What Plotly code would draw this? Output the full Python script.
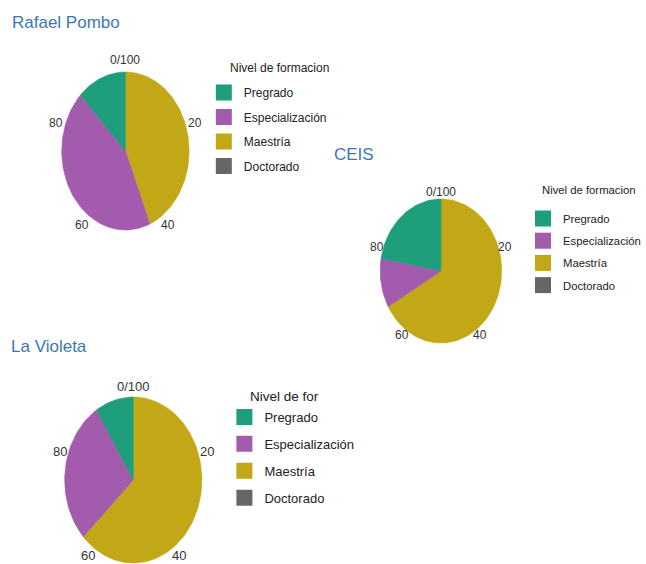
import numpy as np
import plotly.graph_objects as go

# ---- data ----
niveles = ["Pregrado", "Especialización", "Maestría", "Doctorado"]
colores = ["#1f9e7b", "#a25bad", "#c2a716", "#666666"]
sedes = ["Rafael Pombo", "CEIS", "La Violeta"]
rafael_pombo = [12.5, 43.75, 43.75, 0]
ceis = [22.2, 11.1, 66.7, 0]
la_violeta = [9.0, 28.0, 63.0, 0]
ticks = [0, 20, 40, 60, 80]
tick_labels = ["0/100", "20", "40", "60", "80"]
legend_titles = ["Nivel de formacion", "Nivel de formacion", "Nivel de for"]

valores = [rafael_pombo, ceis, la_violeta]

W, H = 646, 564
R = 1.4  # axis half-range (pie radius = 1)
# layout geometry (pixels): centre x, centre y, radius x, radius y
geom = [(128, 151, 65, 79), (450, 271, 62, 72), (136, 480, 70, 83)]
tick_r = [1.15, 1.1, 1.13]
tick_fs = [12, 12, 13]
title_pos = [(10, 22), (339, 154), (9, 346)]
# legend: x, y(top), item font, tracegroupgap
legend_pos = [(208, 78, 12, 5.5), (534, 204, 11.3, 3.2), (229, 402, 13, 7)]
# legend title: x, y(centre), font size
ltitle_pos = [(233, 68, 12), (551, 190, 11.3), (253, 396, 13.5)]

fig = go.Figure()
layout = dict()
annotations = []

for i, (sede, vals) in enumerate(zip(sedes, valores)):
    cx, cy, rx, ry = geom[i]
    xa = "xaxis" if i == 0 else f"xaxis{i+1}"
    ya = "yaxis" if i == 0 else f"yaxis{i+1}"
    xr = "x" if i == 0 else f"x{i+1}"
    yr = "y" if i == 0 else f"y{i+1}"
    px0, px1 = max(0, cx - R * rx), min(W, cx + R * rx)
    py0, py1 = max(0, cy - R * ry), min(H, cy + R * ry)
    layout[xa] = dict(domain=[px0 / W, px1 / W],
                      range=[(px0 - cx) / rx, (px1 - cx) / rx],
                      visible=False, fixedrange=True, anchor=yr)
    layout[ya] = dict(domain=[1 - py1 / H, 1 - py0 / H],
                      range=[(cy - py1) / ry, (cy - py0) / ry],
                      visible=False, fixedrange=True, anchor=xr)
    total = sum(vals)
    # stacking order clockwise from top: last level first (ggplot stack)
    order = [3, 2, 1, 0]
    start = 0.0
    for k in order:
        frac = vals[k] / total
        if frac > 0:
            t = np.linspace(start, start + frac, max(4, int(frac * 200)))
            th = 2 * np.pi * t
            xs = np.concatenate([[0], np.sin(th), [0]])
            ys = np.concatenate([[0], np.cos(th), [0]])
            fig.add_trace(go.Scatter(x=xs, y=ys, xaxis=xr, yaxis=yr, mode="lines",
                                     fill="toself", fillcolor=colores[k],
                                     line=dict(width=0.6, color=colores[k]),
                                     hoverinfo="text", text=f"{niveles[k]}: {vals[k]}",
                                     showlegend=False))
        start += frac
    # legend entries
    lg = "legend" if i == 0 else f"legend{i+1}"
    for k, n in enumerate(niveles):
        fig.add_trace(go.Scatter(x=[None], y=[None], xaxis=xr, yaxis=yr, mode="markers",
                                 marker=dict(symbol="square", size=20, color=colores[k]),
                                 name=n, legend=lg, legendgroup=f"{i}_{n}", showlegend=True))
    lx, ly, ifs, gap = legend_pos[i]
    layout[lg] = dict(x=lx / W, y=1 - ly / H, xanchor="left", yanchor="top",
                      font=dict(size=ifs, color="#222"), bgcolor="rgba(0,0,0,0)",
                      traceorder="grouped", tracegroupgap=gap, itemclick=False)
    tx, ty, tfs = ltitle_pos[i]
    annotations.append(dict(x=tx / W, y=1 - ty / H, xref="paper", yref="paper",
                            xanchor="left", yanchor="middle", text=legend_titles[i],
                            showarrow=False, font=dict(size=tfs, color="#222")))
    # angular tick labels
    for tv, tl in zip(ticks, tick_labels):
        th = 2 * np.pi * tv / 100
        r = tick_r[i]
        annotations.append(dict(x=r * np.sin(th), y=r * np.cos(th), xref=xr, yref=yr,
                                text=tl, showarrow=False,
                                font=dict(size=tick_fs[i], color="#333")))
    # panel title
    tx, ty = title_pos[i]
    annotations.append(dict(x=tx / W, y=1 - ty / H, xref="paper", yref="paper",
                            xanchor="left", yanchor="middle", text=sede, showarrow=False,
                            font=dict(size=17, color="#3b78b3", family="Liberation Sans")))

fig.update_layout(width=W, height=H, margin=dict(l=0, r=0, t=0, b=0),
                  paper_bgcolor="white", plot_bgcolor="white",
                  font=dict(family="Liberation Sans, Arial, sans-serif"),
                  annotations=annotations, **layout)
fig.write_html("out.html")
